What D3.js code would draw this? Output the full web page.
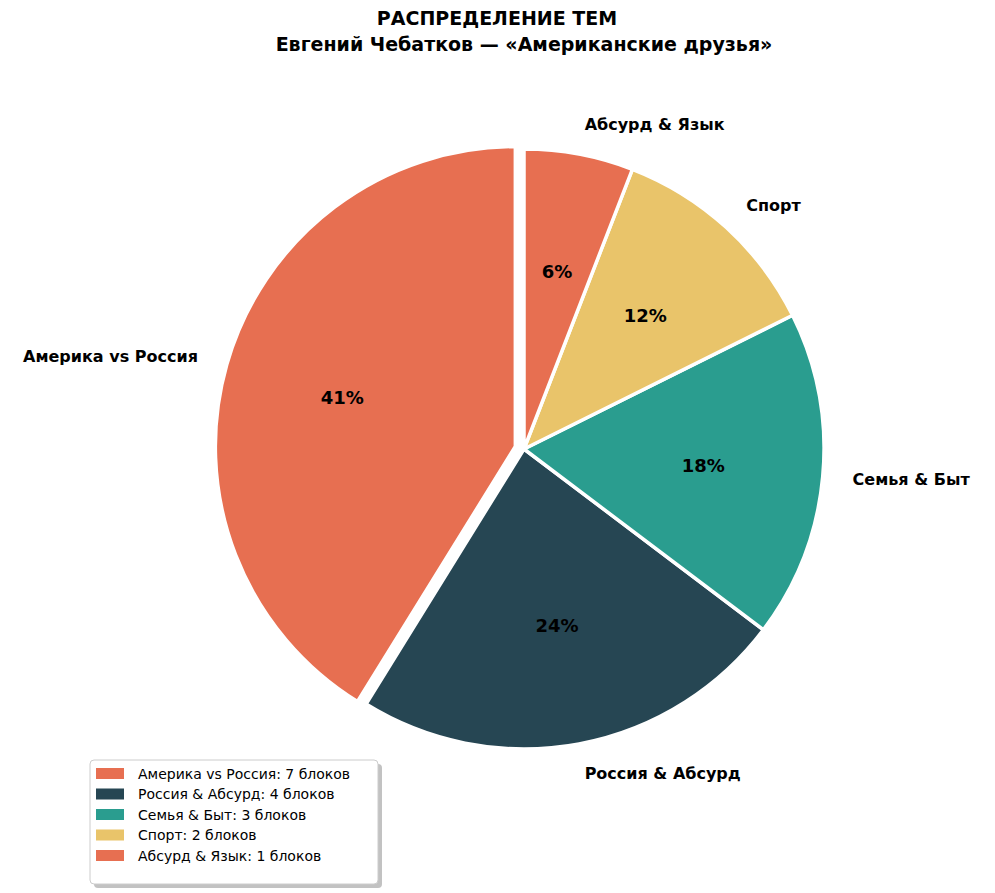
<!DOCTYPE html>
<html><head><meta charset="utf-8">
<script src="https://cdn.jsdelivr.net/npm/d3@7"></script>
<style>body{margin:0;background:#fff}text{font-family:"DejaVu Sans",sans-serif}</style>
</head><body>
<svg id="c" width="995" height="893"></svg>
<script>
const categories = ["Америка vs Россия","Россия & Абсурд","Семья & Быт","Спорт","Абсурд & Язык"];
const values = [7,4,3,2,1];
const colors = ["#E76F51","#264653","#2A9D8F","#E9C46A","#E76F51"];
const explode = [0.03,0,0,0,0];

const svg = d3.select("#c");
const cx = 524, cy = 449, R = 300;
svg.append("text").attr("x",497).attr("y",25).attr("text-anchor","middle").attr("font-size",19).attr("font-weight","bold").text("РАСПРЕДЕЛЕНИЕ ТЕМ");
svg.append("text").attr("x",524).attr("y",51).attr("text-anchor","middle").attr("font-size",19).attr("font-weight","bold").text("Евгений Чебатков — «Американские друзья»");

const total = d3.sum(values);
let cum = 0;
const slices = values.map((v,i)=>{const a=cum/total; cum+=v; const b=cum/total; return {i,v,a,b};});
const arc = d3.arc().innerRadius(0).outerRadius(R);
const g = svg.append("g");
slices.forEach(s=>{
  const mid = (Math.PI/2) + 2*Math.PI*(s.a+s.b)/2;
  const ex = explode[s.i]*R;
  const ox = cx + ex*Math.cos(mid), oy = cy - ex*Math.sin(mid);
  g.append("path").attr("transform",`translate(${ox},${oy})`)
   .attr("d",arc({startAngle:-2*Math.PI*s.b,endAngle:-2*Math.PI*s.a}))
   .attr("fill",colors[s.i]).attr("stroke","#fff").attr("stroke-width",3.5).attr("stroke-linejoin","round");
  const lx = ox + 1.1*R*Math.cos(mid), ly = oy - 1.1*R*Math.sin(mid);
  g.append("text").attr("x",lx).attr("y",ly).attr("dy","0.35em")
   .attr("text-anchor",Math.cos(mid)<0?"end":"start").attr("font-size",16).attr("font-weight","bold").text(categories[s.i]);
  const px = ox + 0.6*R*Math.cos(mid), py = oy - 0.6*R*Math.sin(mid);
  g.append("text").attr("x",px).attr("y",py).attr("dy","0.35em").attr("text-anchor","middle")
   .attr("font-size",18).attr("font-weight","bold").text(Math.round(s.v/total*100)+"%");
});

const lg = svg.append("g").attr("transform","translate(90,760)");
lg.append("rect").attr("x",4).attr("y",4).attr("width",288).attr("height",124).attr("rx",4).attr("fill","#999").attr("opacity",0.6);
lg.append("rect").attr("width",288).attr("height",124).attr("rx",4).attr("fill","#fff").attr("stroke","#ccc");
categories.forEach((c,i)=>{
  const y = 14 + i*20.5;
  lg.append("rect").attr("x",6).attr("y",y-6).attr("width",28).attr("height",11).attr("fill",colors[i]);
  lg.append("text").attr("x",48).attr("y",y).attr("dy","0.35em").attr("font-size",14).text(`${c}: ${values[i]} блоков`);
});
</script></body></html>
